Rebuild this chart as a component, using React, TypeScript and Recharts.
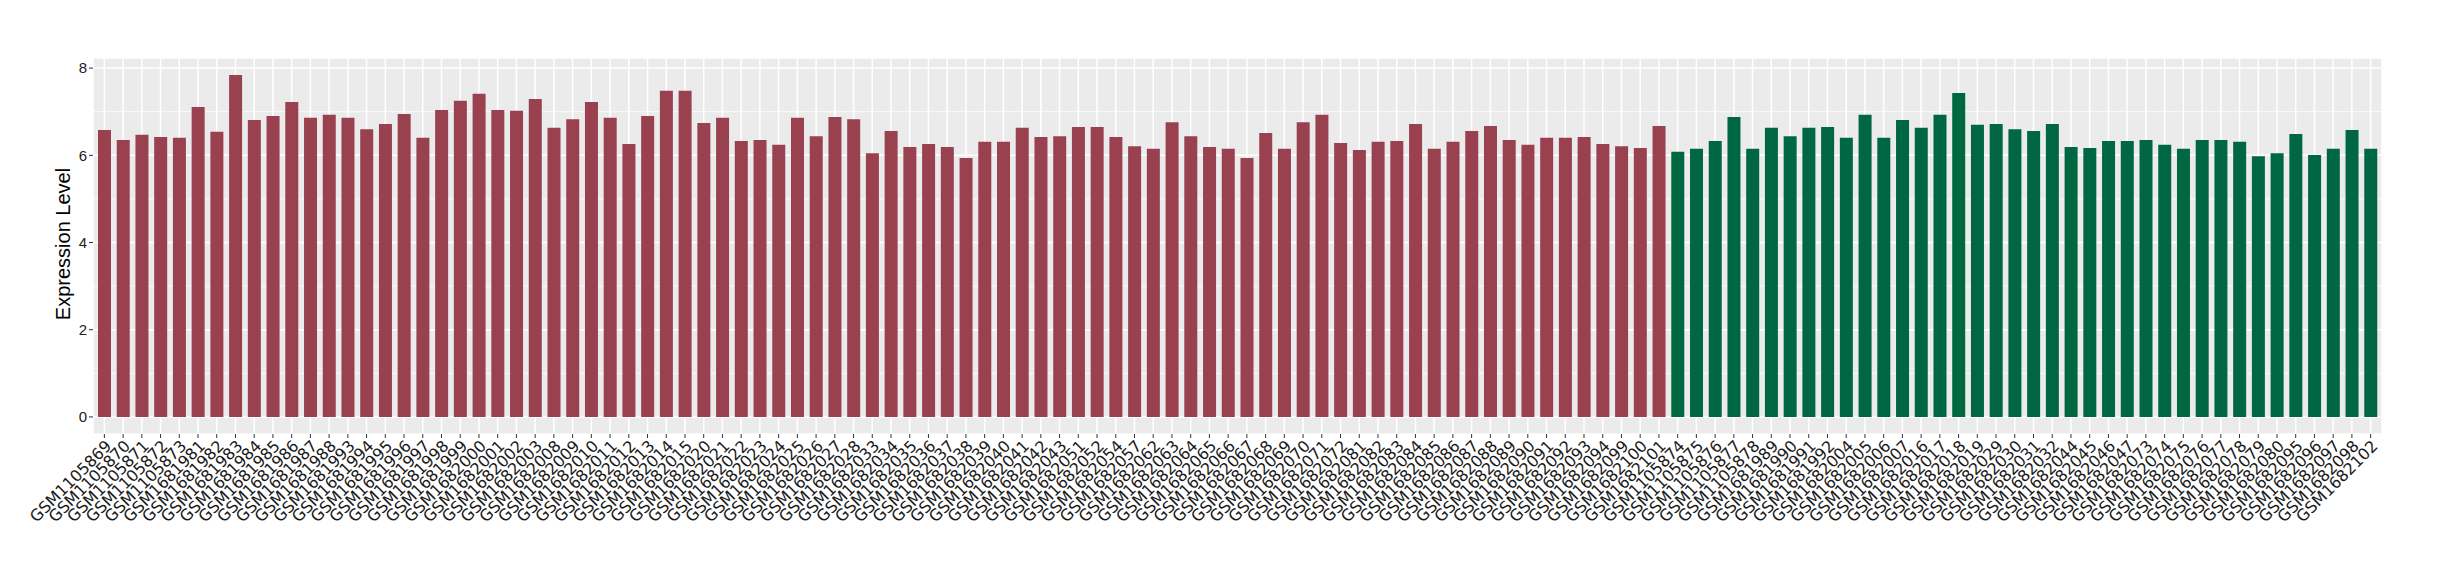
import { BarChart, Bar, Cell, XAxis, YAxis, CartesianGrid, Label } from "recharts";

// sample ids, first group (red)
const groupA = [
  "GSM1105869", "GSM1105870", "GSM1105871", "GSM1105872", "GSM1105873",
  "GSM1681981", "GSM1681982", "GSM1681983", "GSM1681984", "GSM1681985",
  "GSM1681986", "GSM1681987", "GSM1681988", "GSM1681993", "GSM1681994",
  "GSM1681995", "GSM1681996", "GSM1681997", "GSM1681998", "GSM1681999",
  "GSM1682000", "GSM1682001", "GSM1682002", "GSM1682003", "GSM1682008",
  "GSM1682009", "GSM1682010", "GSM1682011", "GSM1682012", "GSM1682013",
  "GSM1682014", "GSM1682015", "GSM1682020", "GSM1682021", "GSM1682022",
  "GSM1682023", "GSM1682024", "GSM1682025", "GSM1682026", "GSM1682027",
  "GSM1682028", "GSM1682033", "GSM1682034", "GSM1682035", "GSM1682036",
  "GSM1682037", "GSM1682038", "GSM1682039", "GSM1682040", "GSM1682041",
  "GSM1682042", "GSM1682043", "GSM1682051", "GSM1682052", "GSM1682054",
  "GSM1682057", "GSM1682062", "GSM1682063", "GSM1682064", "GSM1682065",
  "GSM1682066", "GSM1682067", "GSM1682068", "GSM1682069", "GSM1682070",
  "GSM1682071", "GSM1682072", "GSM1682081", "GSM1682082", "GSM1682083",
  "GSM1682084", "GSM1682085", "GSM1682086", "GSM1682087", "GSM1682088",
  "GSM1682089", "GSM1682090", "GSM1682091", "GSM1682092", "GSM1682093",
  "GSM1682094", "GSM1682099", "GSM1682100", "GSM1682101",
];

const valuesA = [
  6.58, 6.35, 6.47, 6.42, 6.4, 7.11, 6.54, 7.84, 6.81, 6.9,
  7.22, 6.86, 6.93, 6.86, 6.6, 6.72, 6.95, 6.4, 7.04, 7.25,
  7.41, 7.04, 7.02, 7.29, 6.63, 6.83, 7.22, 6.86, 6.26, 6.9,
  7.48, 7.48, 6.74, 6.86, 6.33, 6.35, 6.24, 6.86, 6.44, 6.88,
  6.83, 6.05, 6.56, 6.19, 6.26, 6.19, 5.94, 6.31, 6.31, 6.63,
  6.42, 6.44, 6.65, 6.65, 6.42, 6.21, 6.15, 6.76, 6.44, 6.19,
  6.15, 5.94, 6.51, 6.15, 6.76, 6.93, 6.28, 6.12, 6.31, 6.33,
  6.72, 6.15, 6.31, 6.56, 6.67, 6.35, 6.24, 6.4, 6.4, 6.42,
  6.26, 6.21, 6.17, 6.67,
];

// sample ids, second group (green)
const groupB = [
  "GSM1105874", "GSM1105875", "GSM1105876", "GSM1105877", "GSM1105878",
  "GSM1681989", "GSM1681990", "GSM1681991", "GSM1681992", "GSM1682004",
  "GSM1682005", "GSM1682006", "GSM1682007", "GSM1682016", "GSM1682017",
  "GSM1682018", "GSM1682019", "GSM1682029", "GSM1682030", "GSM1682031",
  "GSM1682032", "GSM1682044", "GSM1682045", "GSM1682046", "GSM1682047",
  "GSM1682073", "GSM1682074", "GSM1682075", "GSM1682076", "GSM1682077",
  "GSM1682078", "GSM1682079", "GSM1682080", "GSM1682095", "GSM1682096",
  "GSM1682097", "GSM1682098", "GSM1682102",
];

const valuesB = [
  6.08, 6.15, 6.33, 6.88, 6.15, 6.63, 6.44, 6.63, 6.65, 6.4,
  6.93, 6.4, 6.81, 6.63, 6.93, 7.43, 6.7, 6.72, 6.6, 6.56,
  6.72, 6.19, 6.17, 6.33, 6.33, 6.35, 6.24, 6.15, 6.35, 6.35,
  6.31, 5.98, 6.05, 6.49, 6.01, 6.15, 6.58, 6.15,
];

const yTicks = [0, 2, 4, 6, 8];
const minorTicks = [1, 3, 5, 7];

const COLOR_A = "#9A4150";
const COLOR_B = "#006743";

const data = [
  ...groupA.map((name, i) => ({ name, value: valuesA[i], group: "A" })),
  ...groupB.map((name, i) => ({ name, value: valuesB[i], group: "B" })),
];

const XTick = (props: any) => {
  const { x, y, payload } = props;
  return (
    <text
      x={x}
      y={y}
      dy="0.72em"
      transform={`rotate(-45 ${x} ${y})`}
      textAnchor="end"
      fontSize={16}
      fontFamily="DejaVu Sans"
      fill="#1a1a1a"
    >
      {payload.value}
    </text>
  );
};

export default function App() {
  return (
    <BarChart
      width={2432}
      height={572}
      data={data}
      margin={{ top: 50, right: 58, bottom: 0, left: 0 }}
    >
      <CartesianGrid
        fill="#EBEBEB"
        stroke="#FFFFFF"
        strokeWidth={1.5}
      />
      <CartesianGrid
        vertical={false}
        horizontalValues={minorTicks}
        stroke="#FFFFFF"
        strokeWidth={0.8}
      />
      <XAxis
        dataKey="name"
        interval={0}
        axisLine={false}
        tickLine={{ stroke: "#333333" }}
        tickSize={4}
        tickMargin={1}
        height={146}
        padding={{ left: 2, right: 2 }}
        tick={<XTick />}
      />
      <YAxis
        width={85}
        domain={[-0.392, 8.232]}
        ticks={yTicks}
        allowDataOverflow
        axisLine={false}
        tickLine={{ stroke: "#333333" }}
        tickSize={4}
        tickMargin={2}
        tick={{ fontSize: 15, fill: "#222222", fontFamily: "Liberation Sans" }}
      >
        <Label
          content={() => (
            <text
              x={55}
              y={236}
              transform="rotate(-90 55 236)"
              textAnchor="middle"
              dominantBaseline="central"
              fontSize={20}
              fontFamily="Liberation Sans"
              fill="#000000"
            >
              Expression Level
            </text>
          )}
        />
      </YAxis>
      <Bar dataKey="value" barSize={13} isAnimationActive={false}>
        {data.map((d, i) => (
          <Cell key={i} fill={d.group === "A" ? COLOR_A : COLOR_B} />
        ))}
      </Bar>
    </BarChart>
  );
}
